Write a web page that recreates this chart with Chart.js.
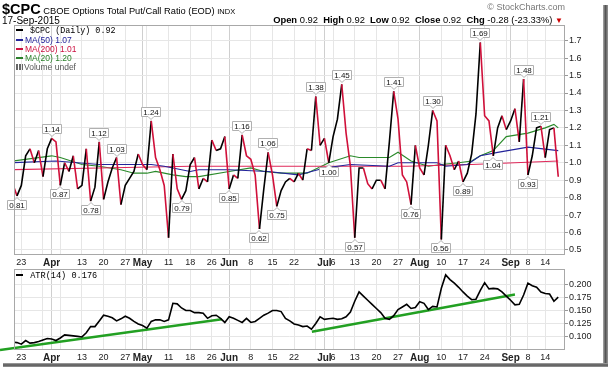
<!DOCTYPE html>
<html>
<head>
<meta charset="utf-8">
<script src="https://cdn.jsdelivr.net/npm/chart.js@4.4.0/dist/chart.umd.min.js"></script>
<style>
body { margin:0; width:609px; height:368px; overflow:hidden; position:relative; background:#fff; font-family:"Liberation Sans", Arial, sans-serif; }
canvas { position:absolute; left:0; }
#main { top:0; }
#atr { top:260px; }
.t { position:absolute; white-space:nowrap; z-index:5; color:#000; }
.mono { font-family:"Liberation Mono", monospace; }
.dash { display:inline-block; width:7px; height:2px; vertical-align:middle; margin-right:2px; position:relative; top:-1px; }
.lg div { height:9px; line-height:9px; font-size:8.5px; }
</style>
</head>
<body>
<canvas id="main" width="609" height="268"></canvas>
<canvas id="atr" width="609" height="108"></canvas>

<div class="t" style="left:2px;top:2px;height:15px;line-height:15px;font-size:9.3px;">
  <b style="font-size:14.5px;">$CPC</b> CBOE Options Total Put/Call Ratio (EOD) <span style="font-size:7.5px;">INDX</span>
</div>
<div class="t" style="left:2px;top:16px;line-height:10px;font-size:10px;">17-Sep-2015</div>
<div class="t" style="right:44px;top:3px;line-height:9px;font-size:9px;color:#777;">&copy; StockCharts.com</div>
<div class="t" style="right:46px;top:15px;line-height:10px;font-size:9.4px;">
  <b>Open</b> 0.92 &nbsp;<b>High</b> 0.92 &nbsp;<b>Low</b> 0.92 &nbsp;<b>Close</b> 0.92 &nbsp;<b>Chg</b> -0.28 (-23.33%) <span style="color:#c00;font-size:8px;">&#9660;</span>
</div>

<div class="t lg" style="left:16px;top:27px;">
  <div class="mono" style="font-size:8.4px;"><span class="dash" style="background:#000"></span> $CPC (Daily) 0.92</div>
  <div style="color:#23239a;"><span class="dash" style="background:#23239a"></span>MA(50) 1.07</div>
  <div style="color:#cc1140;"><span class="dash" style="background:#cc1140"></span>MA(200) 1.01</div>
  <div style="color:#2a802a;"><span class="dash" style="background:#2a802a"></span>MA(20) 1.20</div>
  <div style="color:#555;"><span style="display:inline-block;width:7px;height:6px;margin-right:1px;background:linear-gradient(90deg,#666 0 2px,transparent 2px 3px,#666 3px 5px,transparent 5px 6px,#666 6px 7px);"></span>Volume undef</div>
</div>
<div class="t mono" style="left:16px;top:271px;font-size:8.6px;"><span class="dash" style="background:#000"></span> ATR(14) 0.176</div>

<div style="position:absolute;left:603px;top:5px;width:5px;height:362px;background:linear-gradient(90deg,#aaa,#555,#999);z-index:6;"></div>
<div style="position:absolute;left:3px;top:363px;width:605px;height:4px;background:linear-gradient(180deg,#aaa,#555,#999);z-index:6;"></div>

<script>
// trading day index 0 = 19-Mar-2015, last = 17-Sep-2015
let cpc = [0.88,
    0.81, 0.87, 1.04, 1.08, 1.00, 1.07, 0.92, 1.08, 1.14, 1.12,
    0.87, 1.00, 0.95, 1.04, 0.85, 0.87, 1.08, 0.78, 0.86, 1.12,
    0.79, 0.89, 0.97, 1.03, 0.76, 0.87, 0.91, 0.95, 1.05, 0.99,
    0.96, 1.24, 1.03, 0.96, 0.87, 0.57, 1.05, 0.85, 0.79, 0.84,
    0.99, 1.03, 0.85, 0.91, 0.89, 1.13, 1.07, 1.08, 1.15, 0.85,
    0.93, 0.91, 1.16, 1.04, 1.02, 0.93, 0.62, 0.85, 1.06, 0.93,
    0.75, 0.84, 0.89, 0.91, 0.89, 0.94, 0.90, 1.08, 1.07, 1.38,
    1.10, 1.14, 1.00, 1.15, 1.25, 1.45, 1.17, 0.98, 0.57, 0.97,
    0.97, 0.88, 0.85, 0.90, 0.90, 0.85, 1.12, 1.41, 1.25, 0.93,
    0.89, 0.76, 1.10, 0.97, 0.93, 1.10, 1.30, 1.24, 0.56, 1.10,
    1.04, 0.96, 1.01, 0.89, 0.94, 1.05, 1.28, 1.69, 1.27, 1.24,
    1.04, 1.20, 1.27, 1.19, 1.24, 1.31, 1.12, 1.48, 0.93, 1.04,
    1.20, 1.21, 1.03, 1.19, 1.20, 0.92];

let ma20Day = [0, 9, 11, 16, 20, 25, 28, 31, 33, 37, 40, 43, 50, 55, 58, 62, 68, 73, 78, 80, 87, 89, 92, 96, 99, 103, 106, 108, 111, 114, 119, 123, 125, 126];
let ma20 = [1.01, 1.04, 1.03, 0.99, 0.98, 0.96, 0.94, 0.94, 0.95, 0.93, 0.92, 0.92, 0.95, 0.97, 0.95, 0.94, 0.94, 1.00, 1.04, 1.03, 1.03, 1.06, 1.01, 0.98, 0.99, 1.00, 1.01, 1.04, 1.07, 1.15, 1.17, 1.20, 1.22, 1.20];

let ma50Day = [0, 10, 20, 32, 35, 41, 43, 50, 59, 66, 72, 78, 87, 89, 98, 100, 105, 108, 112, 119, 126];
let ma50 = [1.00, 1.01, 0.99, 0.99, 0.98, 0.95, 0.96, 0.96, 0.95, 0.93, 0.97, 0.99, 0.98, 1.00, 1.00, 0.98, 0.99, 1.04, 1.06, 1.09, 1.07];

let ma200Day = [0, 20, 41, 71, 91, 106, 116, 126];
let ma200 = [0.96, 0.97, 0.98, 0.98, 0.98, 0.99, 1.00, 1.01];

let atr = [0.089,
    0.088, 0.085, 0.092, 0.087, 0.088, 0.090, 0.093, 0.096, 0.095, 0.092,
    0.097, 0.103, 0.102, 0.101, 0.100, 0.099, 0.107, 0.119, 0.119, 0.130,
    0.141, 0.139, 0.136, 0.130, 0.134, 0.139, 0.135, 0.129, 0.124, 0.121,
    0.116, 0.129, 0.132, 0.132, 0.129, 0.132, 0.164, 0.163, 0.155, 0.150,
    0.150, 0.146, 0.146, 0.145, 0.135, 0.140, 0.141, 0.135, 0.127, 0.138,
    0.135, 0.131, 0.127, 0.135, 0.127, 0.129, 0.135, 0.141, 0.145, 0.150,
    0.150, 0.148, 0.135, 0.130, 0.124, 0.122, 0.119, 0.120, 0.114, 0.125,
    0.138, 0.133, 0.134, 0.135, 0.133, 0.134, 0.138, 0.147, 0.168, 0.186,
    0.178, 0.170, 0.162, 0.154, 0.146, 0.135, 0.133, 0.140, 0.152, 0.157,
    0.162, 0.154, 0.156, 0.167, 0.164, 0.152, 0.158, 0.157, 0.193, 0.219,
    0.210, 0.203, 0.195, 0.186, 0.178, 0.171, 0.172, 0.189, 0.204, 0.192,
    0.193, 0.192, 0.186, 0.178, 0.170, 0.161, 0.162, 0.180, 0.203, 0.198,
    0.195, 0.186, 0.183, 0.182, 0.168, 0.176];

// hand drawn trend lines on the ATR panel
let trend1Day = [-2.93, 48.3];
let trend1 = [0.0737, 0.133];
let trend2Day = [69.1, 116];
let trend2 = [0.109, 0.181];

// boxed value tags
let peakDays = [9, 20, 24, 32, 53, 59, 70, 76, 88, 97, 108, 118, 122];
let troughDays = [1, 11, 18, 39, 50, 57, 61, 73, 79, 92, 99, 104, 111, 119];

let xTickDays = [2, 7, 9, 11, 16, 21, 26, 30, 31, 36, 41, 46, 50, 55, 60, 65, 70, 72, 74, 79, 84, 89, 94, 99, 104, 109, 114, 115, 119, 123];
let xTickLabels = ['23', '', 'Apr', '', '13', '20', '27', 'May', '', '11', '18', '26', 'Jun', '8', '15', '22', '', 'Jul', '6', '13', '20', '27', 'Aug', '10', '17', '24', '', 'Sep', '8', '14'];
let monthDays = [9, 30, 50, 72, 94, 115];

let yTicks = [0.5, 0.6, 0.7, 0.8, 0.9, 1.0, 1.1, 1.2, 1.3, 1.4, 1.5, 1.6, 1.7];
let atrTicks = [0.100, 0.125, 0.150, 0.175, 0.200];

const RED = '#d0103a';
const FONT = '"Liberation Sans", Arial, sans-serif';

function pts(days, vals) {
    return vals.map((v, i) => ({x: days ? days[i] : i, y: v}));
}

// panel border
const frame = {
    id: 'frame',
    afterDraw(chart) {
        let ctx = chart.ctx, a = chart.chartArea;
        ctx.save();
        ctx.strokeStyle = '#a8a8a8';
        ctx.lineWidth = 1;
        ctx.strokeRect(Math.round(a.left) + 0.5, Math.round(a.top) + 0.5, Math.round(a.width) - 1, Math.round(a.height) - 1);
        ctx.restore();
    }
};

// boxed tags at highs and lows
const tags = {
    id: 'tags',
    afterDatasetsDraw(chart) {
        let ctx = chart.ctx, x = chart.scales.x, y = chart.scales.y;
        ctx.save();
        ctx.font = '8px ' + FONT;
        ctx.textAlign = 'center';
        ctx.textBaseline = 'middle';
        let draw = (d, up) => {
            let px = Math.round(x.getPixelForValue(d)), py = y.getPixelForValue(cpc[d]);
            let txt = cpc[d].toFixed(2);
            let w = Math.round(ctx.measureText(txt).width) + 4, h = 10;
            let top = Math.round(up ? py - 4 - h : py + 4);
            let left = px - Math.round(w / 2);
            ctx.fillStyle = '#fff';
            ctx.strokeStyle = '#b0b0b0';
            ctx.lineWidth = 1;
            ctx.beginPath();
            if (up) {
                ctx.moveTo(left + 0.5, top + 0.5);
                ctx.lineTo(left + w - 0.5, top + 0.5);
                ctx.lineTo(left + w - 0.5, top + h - 0.5);
                ctx.lineTo(px + 3, top + h - 0.5);
                ctx.lineTo(px, top + h + 2.5);
                ctx.lineTo(px - 3, top + h - 0.5);
                ctx.lineTo(left + 0.5, top + h - 0.5);
            } else {
                ctx.moveTo(left + 0.5, top + 0.5);
                ctx.lineTo(px - 3, top + 0.5);
                ctx.lineTo(px, top - 2.5);
                ctx.lineTo(px + 3, top + 0.5);
                ctx.lineTo(left + w - 0.5, top + 0.5);
                ctx.lineTo(left + w - 0.5, top + h - 0.5);
                ctx.lineTo(left + 0.5, top + h - 0.5);
            }
            ctx.closePath();
            ctx.fill();
            ctx.stroke();
            ctx.fillStyle = '#111';
            ctx.fillText(txt, px, top + h / 2 + 0.5);
        };
        peakDays.forEach(d => draw(d, true));
        troughDays.forEach(d => draw(d, false));
        ctx.restore();
    }
};

function xScale() {
    return {
        type: 'linear',
        min: 0.307,
        max: 127.56,
        afterBuildTicks: (s) => { s.ticks = xTickDays.map(v => ({value: v})); },
        afterFit: (s) => { s.height = 13; s.paddingLeft = 0; s.paddingRight = 0; },
        ticks: {
            autoSkip: false,
            maxRotation: 0,
            minRotation: 0,
            padding: 2,
            color: '#222',
            callback: (v, i) => xTickLabels[i],
            font: (c) => monthDays.includes(c.tick && c.tick.value) ? {family: FONT, size: 10, weight: 'bold'} : {family: FONT, size: 9}
        },
        grid: {
            drawTicks: false,
            color: (c) => monthDays.includes(c.tick && c.tick.value) ? '#cfcfcf' : '#e6e6e6'
        },
        border: {display: false}
    };
}

function yScale(min, max, ticks, digits) {
    return {
        position: 'right',
        min: min,
        max: max,
        afterBuildTicks: (s) => { s.ticks = ticks.map(v => ({value: v})); },
        afterFit: (s) => { s.width = 44; s.paddingTop = 0; s.paddingBottom = 0; },
        ticks: {
            padding: 1,
            color: '#222',
            font: {family: FONT, size: 9},
            callback: (v) => v.toFixed(digits)
        },
        grid: {color: '#e6e6e6', tickLength: 3, tickColor: '#999'},
        border: {display: false}
    };
}

new Chart(document.getElementById('main').getContext('2d'), {
    type: 'line',
    data: {
        datasets: [
            {
                label: '$CPC (Daily)',
                data: pts(null, cpc),
                borderWidth: 1.6,
                borderColor: '#000',
                pointRadius: 0,
                segment: {
                    borderColor: (c) => c.p1.parsed.y < c.p0.parsed.y ? RED : '#000'
                }
            },
            {label: 'MA(50)', data: pts(ma50Day, ma50), borderColor: '#23239a', borderWidth: 1.2, pointRadius: 0},
            {label: 'MA(200)', data: pts(ma200Day, ma200), borderColor: '#e0285a', borderWidth: 1.2, pointRadius: 0},
            {label: 'MA(20)', data: pts(ma20Day, ma20), borderColor: '#2a8a2a', borderWidth: 1.2, pointRadius: 0}
        ]
    },
    options: {
        responsive: false,
        animation: false,
        layout: {padding: {left: 14, top: 25, right: 0, bottom: 0}},
        plugins: {legend: {display: false}, tooltip: {enabled: false}},
        scales: {
            x: xScale(),
            y: yScale(0.471, 1.79, yTicks, 1)
        }
    },
    plugins: [frame, tags]
});

new Chart(document.getElementById('atr').getContext('2d'), {
    type: 'line',
    data: {
        datasets: [
            {label: 'ATR(14)', data: pts(null, atr), borderColor: '#000', borderWidth: 1.6, pointRadius: 0},
            {data: pts(trend1Day, trend1), borderColor: '#22a022', borderWidth: 2.5, pointRadius: 0, clip: false},
            {data: pts(trend2Day, trend2), borderColor: '#22a022', borderWidth: 2.5, pointRadius: 0, clip: false}
        ]
    },
    options: {
        responsive: false,
        animation: false,
        layout: {padding: {left: 14, top: 9, right: 0, bottom: 5}},
        plugins: {legend: {display: false}, tooltip: {enabled: false}},
        scales: {
            x: xScale(),
            y: yScale(0.0737, 0.2304, atrTicks, 3)
        }
    },
    plugins: [frame]
});
</script>
</body>
</html>
